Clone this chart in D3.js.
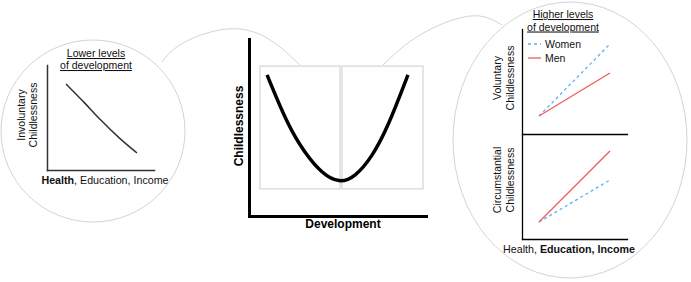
<!DOCTYPE html>
<meta charset="utf-8">
<script src="https://d3js.org/d3.v7.min.js"></script>
<style>
  body { margin: 0; background: #fff; }
  text { font-family: "Liberation Sans", Arial, sans-serif; }
</style>
<div id="chart"></div>
<script>
  // --- data (each panel uses a 0..10 scale on both axes) ---
  // lower levels of development: involuntary childlessness falls
  var lowerCurve = [[1.78, 8.19], [3.55, 6.38], [4.95, 4.80], [6.82, 2.95], [8.41, 1.62]];

  // centre: U-shape of childlessness over development
  var uCurve = [[1.02, 7.97], [2.20, 5.10], [3.16, 3.55], [4.12, 2.40], [5.10, 1.85],
    [5.99, 2.20], [6.95, 3.33], [7.85, 5.03], [8.98, 7.97]];
  var devBoxes = [[0.62, 5.14], [5.25, 9.83]];   // x extents of the two grey frames
  var devBoxY = [1.53, 8.47];

  // higher levels of development
  var seriesNames = ["Women", "Men"];
  var voluntaryWomen = [[1.62, 1.71], [8.38, 8.57]];
  var voluntaryMen = [[1.62, 1.71], [8.38, 5.81]];
  var circumWomen = [[1.62, 1.62], [8.38, 5.62]];
  var circumMen = [[1.62, 1.62], [8.38, 8.38]];

  var lowerTitle = ["Lower levels", "of development"];
  var higherTitle = ["Higher levels", "of development"];
  var lowerYLabel = ["Involuntary", "Childlessness"];
  var volYLabel = ["Voluntary", "Childlessness"];
  var circYLabel = ["Circumstantial", "Childlessness"];

  var W = 691, H = 282;
  var svg = d3.select("#chart").append("svg")
    .attr("width", W).attr("height", H);

  var blue = "#5aaef2", red = "#f05a5a", grey = "#d4d4d4";

  // bubbles and connectors
  svg.append("ellipse").attr("cx", 93).attr("cy", 131).attr("rx", 92).attr("ry", 91)
    .attr("fill", "none").attr("stroke", grey);
  svg.append("ellipse").attr("cx", 570).attr("cy", 140).attr("rx", 117).attr("ry", 138)
    .attr("fill", "none").attr("stroke", grey);

  var arcLine = d3.line().curve(d3.curveNatural);
  svg.append("path").attr("d", arcLine([[162, 62], [183, 43], [227, 29], [267, 38], [300, 65]]))
    .attr("fill", "none").attr("stroke", grey);
  svg.append("path").attr("d", arcLine([[383, 65], [420, 35], [470, 16], [502, 25]]))
    .attr("fill", "none").attr("stroke", grey);

  function axes(g, x, y, x0, y0, width, color) {
    g.append("g").attr("transform", "translate(" + x0 + ",0)")
      .call(d3.axisLeft(y).ticks(0).tickSizeOuter(0))
      .select(".domain").attr("stroke", color).attr("stroke-width", width).attr("stroke-linecap", "square");
    g.append("g").attr("transform", "translate(0," + y0 + ")")
      .call(d3.axisBottom(x).ticks(0).tickSizeOuter(0))
      .select(".domain").attr("stroke", color).attr("stroke-width", width).attr("stroke-linecap", "square");
  }

  function stackedLabel(lines, px, py, step, size) {
    lines.forEach(function (t, i) {
      svg.append("text")
        .attr("transform", "translate(" + (px + i * step) + "," + py + ") rotate(-90)")
        .attr("text-anchor", "middle")
        .attr("fill", "#111")
        .style("font-size", size + "px")
        .text(t);
    });
  }

  // --- lower panel ---
  var lx = d3.scaleLinear().domain([0, 10]).range([47, 154]);
  var ly = d3.scaleLinear().domain([0, 10]).range([170, 65]);
  var lower = svg.append("g");
  axes(lower, lx, ly, 47, 170, 1.5, "#333");
  lower.append("path")
    .attr("d", d3.line().x(function (d) { return lx(d[0]); }).y(function (d) { return ly(d[1]); })
      .curve(d3.curveBasis)(lowerCurve))
    .attr("fill", "none").attr("stroke", "#333").attr("stroke-width", 1.5);

  lowerTitle.forEach(function (t, i) {
    svg.append("text").attr("x", 96).attr("y", 57 + i * 12)
      .attr("text-anchor", "middle").attr("fill", "#111").style("font-size", "10.5px")
      .style("text-decoration", "underline").text(t);
  });
  stackedLabel(lowerYLabel, 25, 115, 12, 10.5);
  var lt = svg.append("text").attr("x", 105).attr("y", 184).attr("text-anchor", "middle")
    .attr("fill", "#111").style("font-size", "10.7px");
  lt.append("tspan").style("font-weight", "bold").text("Health");
  lt.append("tspan").text(", Education, Income");

  // --- centre panel ---
  var mx = d3.scaleLinear().domain([0, 10]).range([249, 426]);
  var my = d3.scaleLinear().domain([0, 10]).range([216, 39]);
  var mid = svg.append("g");
  mid.selectAll("rect").data(devBoxes).enter().append("rect")
    .attr("x", function (d) { return mx(d[0]); })
    .attr("width", function (d) { return mx(d[1]) - mx(d[0]); })
    .attr("y", my(devBoxY[1]))
    .attr("height", my(devBoxY[0]) - my(devBoxY[1]))
    .attr("fill", "none").attr("stroke", grey).attr("stroke-width", 1.2);
  axes(mid, mx, my, 249, 216, 3, "#000");
  mid.append("path")
    .attr("d", d3.line().x(function (d) { return mx(d[0]); }).y(function (d) { return my(d[1]); })
      .curve(d3.curveBasis)(uCurve))
    .attr("fill", "none").attr("stroke", "#000").attr("stroke-width", 3.5);
  svg.append("text").attr("transform", "translate(243,126) rotate(-90)")
    .attr("text-anchor", "middle").attr("fill", "#000").style("font-size", "12px").style("font-weight", "bold")
    .text("Childlessness");
  svg.append("text").attr("x", 343).attr("y", 228)
    .attr("text-anchor", "middle").attr("fill", "#000").style("font-size", "12px").style("font-weight", "bold")
    .text("Development");

  // --- higher panel ---
  var hx = d3.scaleLinear().domain([0, 10]).range([522, 627]);
  var hyTop = d3.scaleLinear().domain([0, 10]).range([134, 29]);
  var hyBot = d3.scaleLinear().domain([0, 10]).range([239, 134]);
  var high = svg.append("g");
  axes(high, hx, hyTop, 522, 134, 1.3, "#000");
  axes(high, hx, hyBot, 522, 239, 1.3, "#000");

  function seg(y, data, color, dashed) {
    high.append("path")
      .attr("d", d3.line().x(function (d) { return hx(d[0]); }).y(function (d) { return y(d[1]); })(data))
      .attr("fill", "none").attr("stroke", color).attr("stroke-width", 1.3)
      .attr("stroke-dasharray", dashed ? "3,3" : null);
  }
  seg(hyTop, voluntaryWomen, blue, true);
  seg(hyTop, voluntaryMen, red, false);
  seg(hyBot, circumWomen, blue, true);
  seg(hyBot, circumMen, red, false);

  // legend
  seriesNames.forEach(function (name, i) {
    var yy = 44 + i * 14;
    svg.append("line").attr("x1", 528).attr("x2", 541).attr("y1", yy).attr("y2", yy)
      .attr("stroke", i === 0 ? blue : red).attr("stroke-width", 1.3)
      .attr("stroke-dasharray", i === 0 ? "3,3" : null);
    svg.append("text").attr("x", 545).attr("y", yy + 4).attr("fill", "#111")
      .style("font-size", "10.5px").text(name);
  });

  higherTitle.forEach(function (t, i) {
    svg.append("text").attr("x", 563).attr("y", 18 + i * 12.5)
      .attr("text-anchor", "middle").attr("fill", "#111").style("font-size", "10.5px")
      .style("text-decoration", "underline").text(t);
  });
  stackedLabel(volYLabel, 501, 78, 13, 10.5);
  stackedLabel(circYLabel, 501, 180, 13, 10.5);
  var ht = svg.append("text").attr("x", 569).attr("y", 253).attr("text-anchor", "middle")
    .attr("fill", "#111").style("font-size", "10.7px");
  ht.append("tspan").text("Health, ");
  ht.append("tspan").style("font-weight", "bold").text("Education, Income");
</script>
